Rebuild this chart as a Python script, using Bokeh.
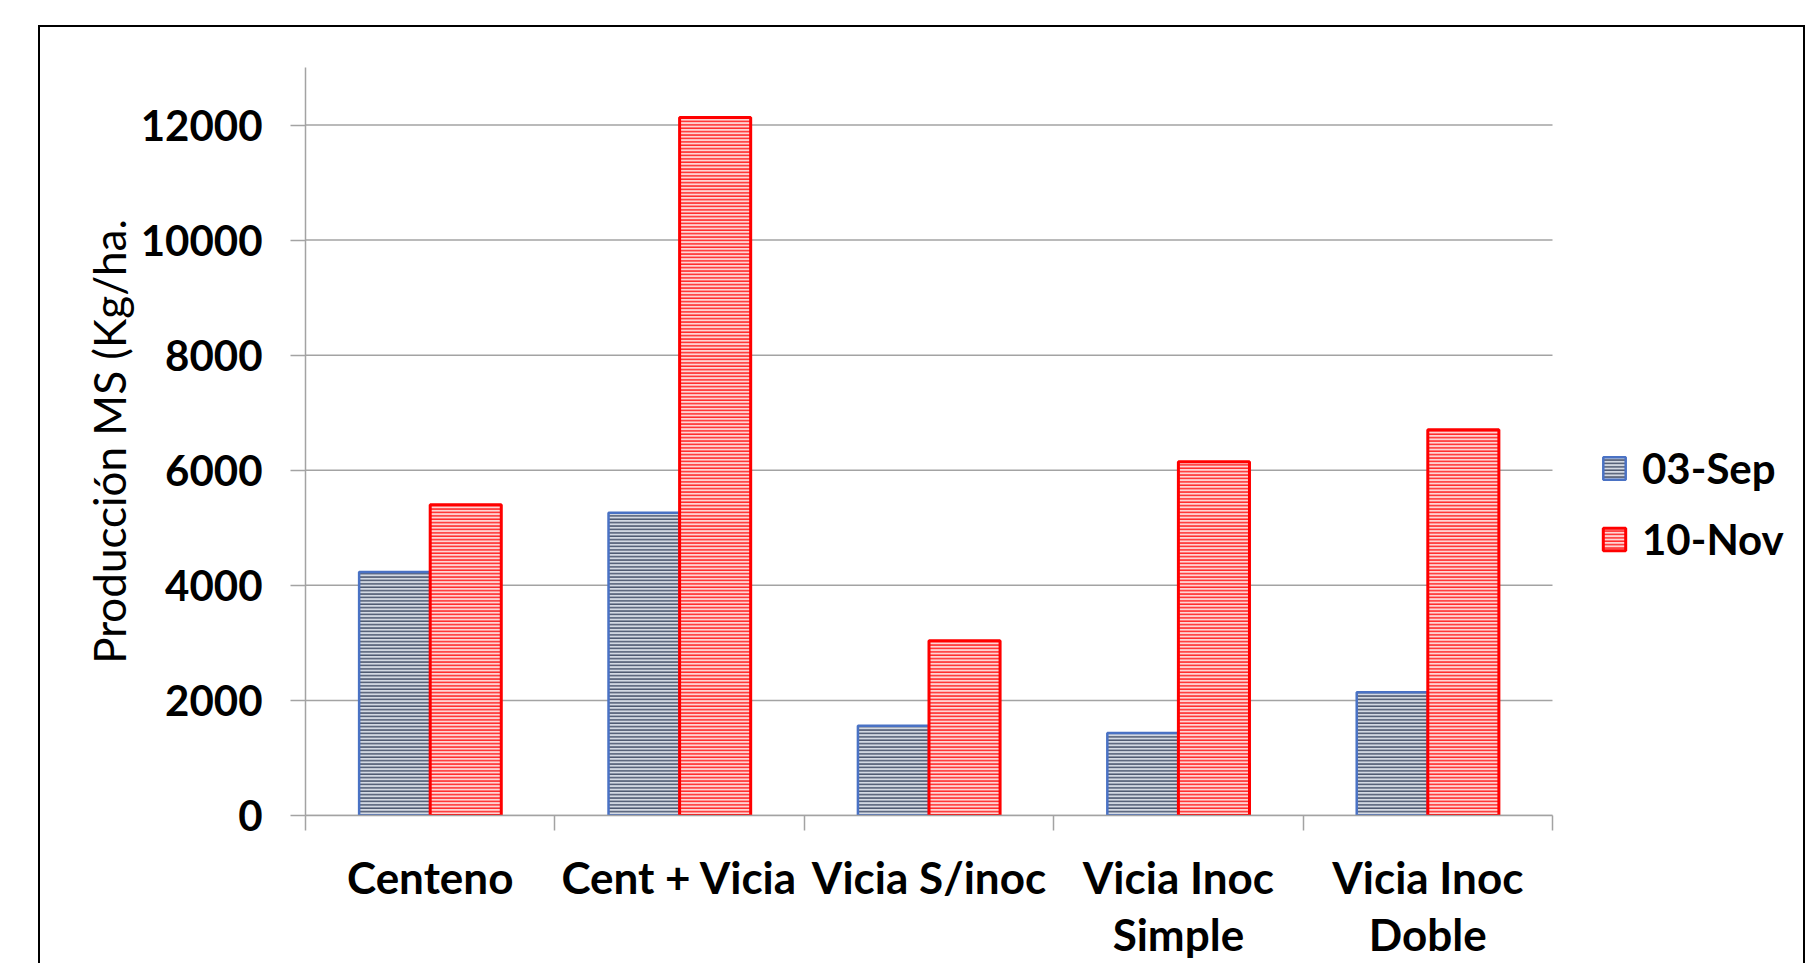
from bokeh.plotting import figure
from bokeh.models import (Range1d, FixedTicker, Legend, LegendItem, ColumnDataSource)
from bokeh.embed import file_html
from bokeh.resources import INLINE

# ---- data ----
categories = ["Centeno", "Cent + Vicia", "Vicia S/inoc", "Vicia Inoc\nSimple", "Vicia Inoc\nDoble"]
sep_03 = [4230, 5260, 1560, 1435, 2140]
nov_10 = [5400, 12130, 3035, 6150, 6705]
series_names = ["03-Sep", "10-Nov"]
y_ticks = [0, 2000, 4000, 6000, 8000, 10000, 12000]

n = len(categories)
centers = [i + 0.5 for i in range(n)]
bounds = list(range(n + 1))
bar_w = 0.285

# layout (pixels)
W, H = 1767, 938
BL, BT, BR, BB = 265, 40, 10, 150
plot_w = 1247              # pixel width of the category area
frame_w = W - BL - BR
x_end = n * frame_w / plot_w

p = figure(width=W, height=H, output_backend="svg", toolbar_location=None,
           x_range=Range1d(0, x_end), y_range=Range1d(0, 13000),
           min_border_left=BL, min_border_top=BT, min_border_right=BR, min_border_bottom=BB)
p.margin = (25, 0, 0, 38)
p.styles = {"border-top": "2px solid black", "border-left": "2px solid black",
            "border-right": "2px solid black"}
p.outline_line_color = None
p.background_fill_color = "white"
p.border_fill_color = "white"

axis_gray = "#a3a3a3"

# grid lines (limited to the category area)
p.xgrid.visible = False
p.ygrid.visible = False
p.segment(x0=[0] * len(y_ticks), x1=[n] * len(y_ticks), y0=y_ticks, y1=y_ticks,
          line_color=axis_gray, line_width=1.5, level="underlay")

src = ColumnDataSource(dict(
    xl=[c - bar_w / 2 for c in centers],
    xr=[c + bar_w / 2 for c in centers],
    sep=sep_03, nov=nov_10))

r1 = p.vbar(x="xl", top="sep", bottom=0, width=bar_w, source=src,
            fill_color="#d3d9e3", hatch_pattern="horizontal_line", hatch_color="#4d5870",
            hatch_scale=3.4, hatch_weight=1.6, line_color="#4a72c4", line_width=2.5)
r2 = p.vbar(x="xr", top="nov", bottom=0, width=bar_w, source=src,
            fill_color="#ffd4d4", hatch_pattern="horizontal_line", hatch_color="#ff2a2a",
            hatch_scale=3.4, hatch_weight=1.6, line_color="#ff0000", line_width=3)

# y axis
ya = p.yaxis[0]
ya.ticker = FixedTicker(ticks=y_ticks)
ya.axis_line_color = axis_gray
ya.axis_line_width = 1.5
ya.major_tick_line_color = axis_gray
ya.major_tick_line_width = 1.5
ya.major_tick_out = 15
ya.major_tick_in = 0
ya.minor_tick_line_color = None
ya.major_label_text_font = "Lato"
ya.major_label_text_font_style = "bold"
ya.major_label_text_font_size = "42px"
ya.major_label_text_color = "black"
ya.major_label_standoff = 28
ya.axis_label = "Producción MS (Kg/ha."
ya.axis_label_text_font = "Lato"
ya.axis_label_text_font_style = "normal"
ya.axis_label_text_font_size = "44px"
ya.axis_label_text_color = "black"
ya.axis_label_standoff = 3

# x axis
xa = p.xaxis[0]
xa.bounds = (0, n)
xa.ticker = FixedTicker(ticks=centers, minor_ticks=bounds)
xa.major_label_overrides = {c: lab for c, lab in zip(centers, categories)}
xa.axis_line_color = axis_gray
xa.axis_line_width = 1.5
xa.major_tick_line_color = None
xa.major_tick_out = 0
xa.major_tick_in = 0
xa.minor_tick_line_color = axis_gray
xa.minor_tick_line_width = 1.5
xa.minor_tick_out = 15
xa.minor_tick_in = 0
xa.major_label_text_font = "Lato"
xa.major_label_text_font_style = "bold"
xa.major_label_text_font_size = "44px"
xa.major_label_text_color = "black"
xa.major_label_text_line_height = 1.1
xa.major_label_standoff = 20

legend = Legend(items=[LegendItem(label=series_names[0], renderers=[r1]),
                       LegendItem(label=series_names[1], renderers=[r2])],
                location=(1295, 251))
legend.padding = 0
legend.margin = 0
legend.border_line_color = None
legend.background_fill_alpha = 0
legend.glyph_width = 28
legend.glyph_height = 28
legend.label_standoff = 14
legend.spacing = 21
legend.label_text_font = "Lato"
legend.label_text_font_style = "bold"
legend.label_text_font_size = "42px"
legend.label_text_color = "black"
p.add_layout(legend)

open("out.html", "w").write(file_html(p, INLINE))
